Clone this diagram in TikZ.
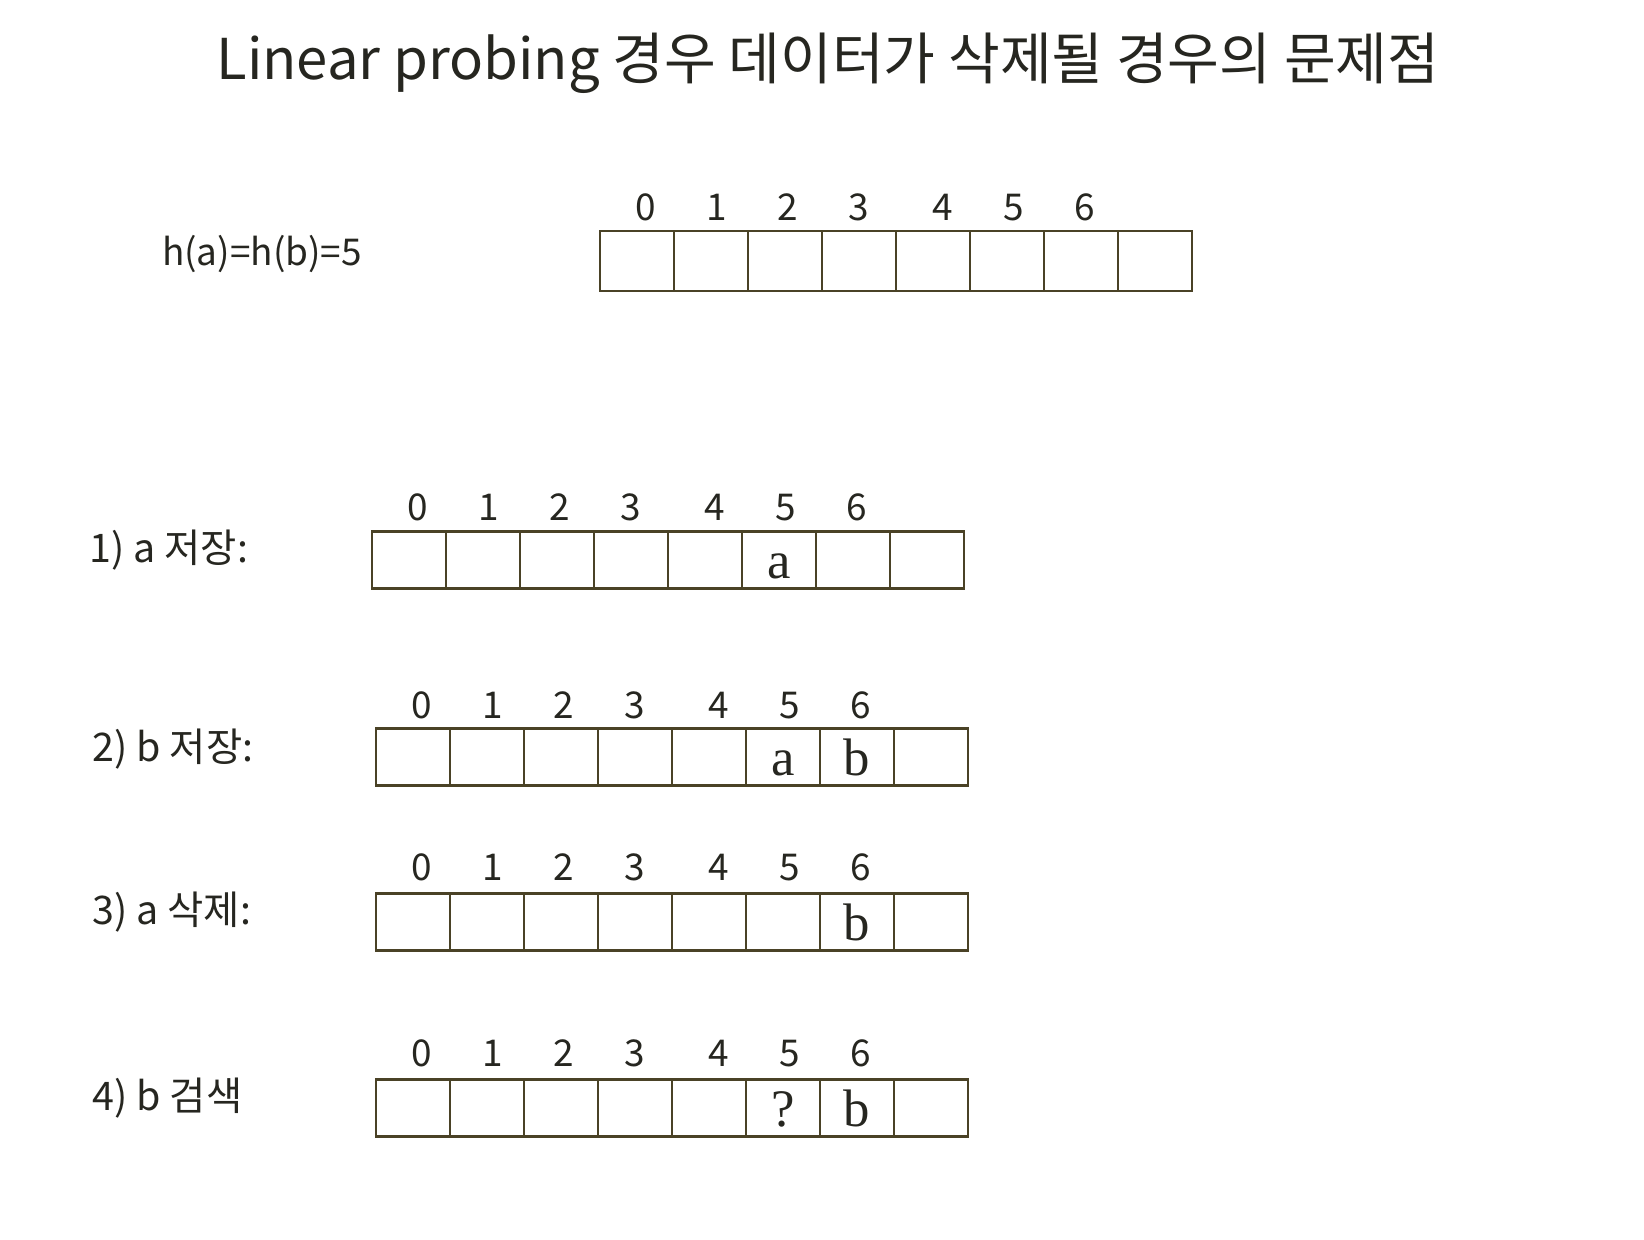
\documentclass[tikz,border=0pt]{standalone}
\usepackage{fontspec}
\setmainfont{Noto Sans CJK KR}
\newfontfamily\cellfont{Liberation Serif}
\usepackage{tikz}
\usetikzlibrary{positioning}
\definecolor{linecol}{HTML}{4A4226}
\definecolor{txtcol}{HTML}{262620}
\tikzset{
    %Define style for the table cells
    cellbox/.style={
           rectangle,
           draw=linecol, line width=0.7pt,
           minimum width=7.4mm,
           minimum height=5.7mm,
           inner sep=0pt,
           text height=10.6pt,
           text depth=0pt,
           text=txtcol,
           font=\cellfont\fontsize{15}{15}\selectfont},
    %Define style for the index numbers
    idx/.style={
           text=txtcol,
           inner sep=0pt,
           text height=7.6pt,
           text depth=0pt,
           font=\fontsize{10.5}{11}\selectfont},
    %Define style for the step labels
    steplabel/.style={
           anchor=west,
           inner sep=0pt,
           text=txtcol,
           font=\fontsize{11.2}{12}\selectfont}
}
\begin{document}
\begin{tikzpicture}[x=0.01cm,y=-0.01cm]
\useasboundingbox (0,0) rectangle (1644,1240);

 %title
\node[text=txtcol, font=\fontsize{16}{18}\selectfont] (title) at (828,63)
    {Linear probing 경우 데이터가 삭제될 경우의 문제점};

 %hash values and empty table
\node[steplabel, anchor=center, font=\fontsize{10.5}{12}\selectfont] (hash) at (262,254) {h(a)=h(b)=5};
\foreach \i in {0,...,7}
    \node[cellbox, minimum height=6mm] (t0c\i) at ({600+74*\i+37},261) {};
\foreach \d/\off in {0/46,1/117,2/188,3/259,4/343,5/414,6/485}
    \node[idx] (t0i\d) at ({600+\off},207) {\d};

 %1) a stored
\node[steplabel] (s1) at (89,550) {1) a 저장:};
\foreach \v [count=\i from 0] in {{},{},{},{},{},a,{},{}}
    \node[cellbox] (t1c\i) at ({372+74*\i+37},560) {\v};
\foreach \d/\off in {0/46,1/117,2/188,3/259,4/343,5/414,6/485}
    \node[idx] (t1i\d) at ({372+\off},507) {\d};

 %2) b stored
\node[steplabel] (s2) at (92,749) {2) b 저장:};
\foreach \v [count=\i from 0] in {{},{},{},{},{},a,b,{}}
    \node[cellbox] (t2c\i) at ({376+74*\i+37},757) {\v};
\foreach \d/\off in {0/46,1/117,2/188,3/259,4/343,5/414,6/485}
    \node[idx] (t2i\d) at ({376+\off},705) {\d};

 %3) a deleted
\node[steplabel] (s3) at (92,912) {3) a 삭제:};
\foreach \v [count=\i from 0] in {{},{},{},{},{},{},b,{}}
    \node[cellbox] (t3c\i) at ({376+74*\i+37},922) {\v};
\foreach \d/\off in {0/46,1/117,2/188,3/259,4/343,5/414,6/485}
    \node[idx] (t3i\d) at ({376+\off},867) {\d};

 %4) b search
\node[steplabel] (s4) at (92,1098) {4) b 검색};
\foreach \v [count=\i from 0] in {{},{},{},{},{},?,b,{}}
    \node[cellbox] (t4c\i) at ({376+74*\i+37},1108) {\v};
\foreach \d/\off in {0/46,1/117,2/188,3/259,4/343,5/414,6/485}
    \node[idx] (t4i\d) at ({376+\off},1053) {\d};

\end{tikzpicture}
\end{document}
